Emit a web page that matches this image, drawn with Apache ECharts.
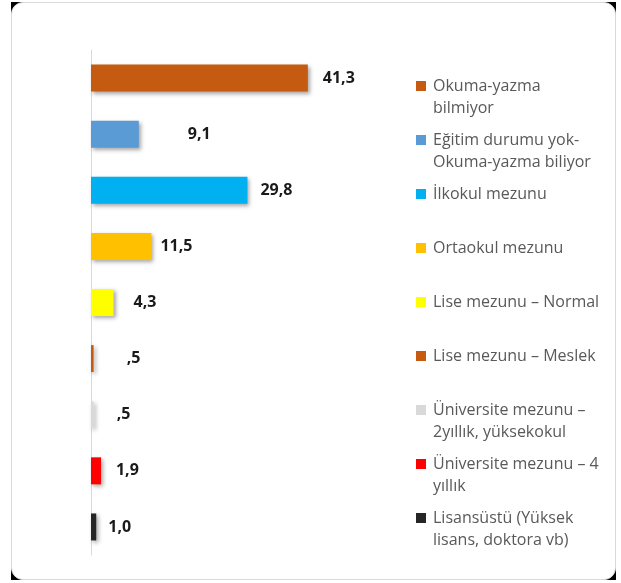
<!DOCTYPE html>
<html>
<head>
<meta charset="utf-8">
<script src="https://cdn.jsdelivr.net/npm/echarts@6/dist/echarts.min.js"></script>
<style>
  body { margin: 0; background: #fff; }
  #frame { position: absolute; left: 11px; top: 2px; width: 605px; height: 578px; background: #000; }
  #frame div { width: 100%; height: 100%; box-sizing: border-box; background: #fff; border: 1px solid #d9d9d9; border-radius: 12px; }
  #chart { position: absolute; left: 0; top: 0; width: 621px; height: 583px; }
</style>
</head>
<body>
<div id="frame"><div></div></div>
<div id="chart"></div>
<script>
// kategoriler (legend metni, satır kırılımları resimdeki gibi)
const categories = [
  'Okuma-yazma\nbilmiyor',
  'Eğitim durumu yok-\nOkuma-yazma biliyor',
  'İlkokul mezunu',
  'Ortaokul mezunu',
  'Lise mezunu – Normal',
  'Lise mezunu – Meslek',
  'Üniversite mezunu –\n2yıllık, yüksekokul',
  'Üniversite mezunu – 4\nyıllık',
  'Lisansüstü (Yüksek\nlisans, doktora vb)'
]
const values = [41.3, 9.1, 29.8, 11.5, 4.3, 0.5, 0.5, 1.9, 1.0]
const colors = ['#C55A11', '#5B9BD5', '#00B0F0', '#FFC000', '#FFFF00', '#C55A11', '#D9D9D9', '#FF0000', '#262626']
// etiket ile çubuk ucu arası boşluk (stil)
const labelGap = [15, 49, 13, 9, 20, 33, 23, 15, 12]

const FONT = 'Open Sans'
const LINE = 22

function fmt(v) {
  return v.toFixed(1).replace('.', ',').replace(/^0/, '')
}

const chart = echarts.init(document.getElementById('chart'))

const series = categories.map((name, i) => ({
  name: name,
  type: 'bar',
  stack: 'all',
  barWidth: 27,
  data: values.map((v, j) => (j === i ? v : '-')),
  itemStyle: {
    color: colors[i],
    shadowColor: 'rgba(0,0,0,0.35)',
    shadowBlur: 4,
    shadowOffsetX: 2,
    shadowOffsetY: 2
  },
  label: {
    show: true,
    position: 'right',
    distance: labelGap[i],
    formatter: p => fmt(p.value),
    fontFamily: FONT,
    fontWeight: 'bold',
    fontSize: 16,
    color: '#1a1a1a'
  },
  emphasis: { disabled: true }
}))

// her kalem ayrı legend: ikon ilk satırla hizalı olsun diye
// iki satırlı metnin başına boş satır eklenir (3 satır, ortadaki = ilk satır)
const legends = categories.map((name, i) => {
  const twoLine = name.indexOf('\n') >= 0
  const iconY = 86 + 54 * i
  return {
    data: [name],
    orient: 'vertical',
    left: 416,
    top: twoLine ? iconY - LINE * 1.5 : iconY - LINE / 2,
    padding: 0,
    icon: 'rect',
    itemWidth: 10,
    itemHeight: 10,
    selectedMode: false,
    formatter: n => (twoLine ? ' \n' + n : n),
    textStyle: {
      fontFamily: FONT,
      fontSize: 16,
      color: '#595959',
      lineHeight: LINE,
      padding: [0, 0, 0, 2]
    }
  }
})

const option = {
  animation: false,
  backgroundColor: 'transparent',
  grid: { left: 91, top: 50, width: 262.5, height: 505 },
  xAxis: { type: 'value', min: 0, max: 50, show: false },
  yAxis: {
    type: 'category',
    inverse: true,
    data: categories,
    axisLine: { show: true, lineStyle: { color: '#d9d9d9', width: 1 } },
    axisTick: { show: false },
    axisLabel: { show: false }
  },
  legend: legends,
  series: series
}
chart.setOption(option)
</script>
</body>
</html>
